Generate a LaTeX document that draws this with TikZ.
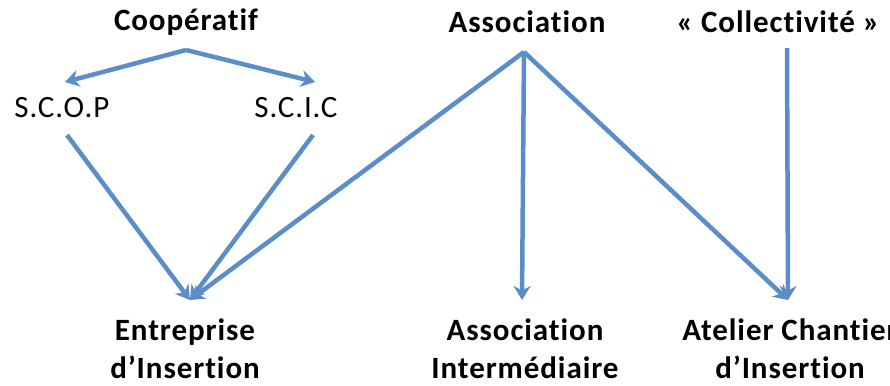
\documentclass[tikz,border=0pt]{standalone}
\usepackage{fontspec}
\setmainfont{Carlito}[LetterSpace=3,Ligatures=NoCommon]
\usetikzlibrary{arrows.meta,positioning}
\definecolor{linkblue}{HTML}{5B8EC9}

\begin{document}
\begin{tikzpicture}[
  x=1pt, y=-1pt,
  font=\fontsize{31}{38}\selectfont,
  >={Stealth[length=14pt,width=17pt]},
  headlabel/.style={
    inner sep=0pt,
    align=center,
    font=\fontsize{31}{38}\selectfont\bfseries
  },
  typelabel/.style={
    inner sep=0pt,
    align=center
  },
  linkarrow/.style={
    ->,
    line width=4.5pt,
    draw=linkblue
  }
]
  \useasboundingbox (0,0) rectangle (890,385);

  % --- TOP ROW: origins ---
  \node[headlabel] (coop) at (186,22) {Coopératif};
  \node[headlabel] (assoc) at (527,22) {Association};
  \node[headlabel] (collec) at (778,22) {« Collectivité »};

  % --- MIDDLE ROW: cooperative types ---
  \node[typelabel] (scop) at (62,108) {S.C.O.P};
  \node[typelabel] (scic) at (296,108) {S.C.I.C};

  % --- BOTTOM ROW: structures ---
  \node[headlabel] (ei) at (185,349) {Entreprise\\d’Insertion};
  \node[headlabel] (ai) at (525,349) {Association\\Intermédiaire};
  \node[headlabel] (aci) at (790,349) {Atelier Chantier\\d’Insertion};

  % Arrow end points
  \coordinate (coopOut) at (186,50);
  \coordinate (scopIn) at (65,82);
  \coordinate (scicIn) at (315,82);
  \coordinate (scopOut) at (67,135);
  \coordinate (scicOut) at (313,135);
  \coordinate (assocOut) at (524,52);
  \coordinate (collecOut) at (787,48);
  \coordinate (eiIn) at (190,300);
  \coordinate (aiIn) at (522,300);
  \coordinate (aciIn) at (788,300);

  % Connecting Arrows
  \draw[linkarrow] (coopOut) -- (scopIn);
  \draw[linkarrow] (coopOut) -- (scicIn);
  \draw[linkarrow] (scopOut) -- (eiIn);
  \draw[linkarrow] (scicOut) -- (eiIn);
  \draw[linkarrow] (assocOut) -- (eiIn);
  \draw[linkarrow] (assocOut) -- (aiIn);
  \draw[linkarrow] (assocOut) -- (aciIn);
  \draw[linkarrow] (collecOut) -- (aciIn);

\end{tikzpicture}
\end{document}
